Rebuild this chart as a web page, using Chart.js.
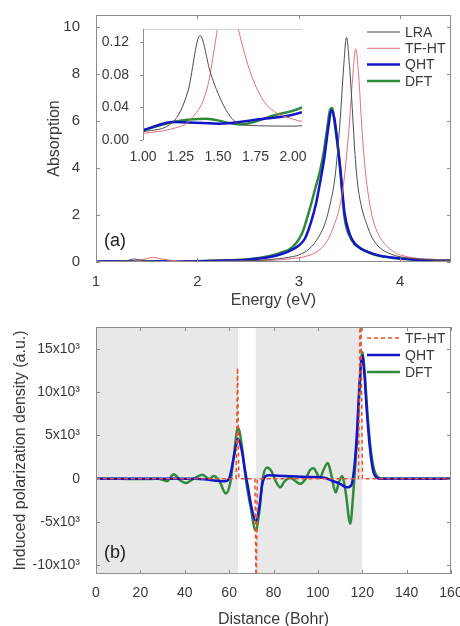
<!DOCTYPE html>
<html>
<head>
<meta charset="utf-8">
<script src="https://cdn.jsdelivr.net/npm/chart.js@4.4.1/dist/chart.umd.min.js"></script>
<style>
body{margin:0;background:#fff;}
#wrap{position:relative;width:460px;height:626px;overflow:hidden;}
#absChart{position:absolute;left:0;top:0;}
#insetChart{position:absolute;left:90px;top:20px;}
#polChart{position:absolute;left:0;top:308px;}
</style>
</head>
<body>
<div id="wrap">
<canvas id="absChart" width="460" height="308"></canvas>
<canvas id="insetChart" width="220" height="150"></canvas>
<canvas id="polChart" width="460" height="318"></canvas>
</div>
<script>
// ---- panel (a): absorption spectra ----
const energyLRA = [1.0,1.2,1.3,1.38,1.45,1.53,1.6,1.7,2.0,2.3,2.6,2.8,2.9,3.0,3.1,3.2,3.27,3.31,3.35,3.38,3.41,3.44,3.47,3.5,3.53,3.55,3.58,3.62,3.67,3.72,3.8,3.9,4.0,4.2,4.5];
const absLRA    = [0.01,0.022,0.06,0.128,0.082,0.045,0.025,0.018,0.017,0.03,0.07,0.14,0.2,0.3,0.55,1.1,1.8,2.5,3.4,4.6,6.2,8.2,9.55,8.3,6.3,4.8,3.3,2.3,1.6,1.05,0.6,0.35,0.22,0.12,0.06];

const energyTFHT = [1.0,1.2,1.31,1.43,1.5,1.56,1.63,1.71,1.8,1.89,1.98,2.06,2.3,2.6,2.8,3.0,3.1,3.2,3.28,3.35,3.4,3.44,3.47,3.5,3.53,3.56,3.59,3.62,3.65,3.68,3.72,3.77,3.85,3.93,4.0,4.2,4.5];
const absTFHT    = [0.008,0.014,0.024,0.065,0.14,0.2,0.14,0.086,0.049,0.033,0.027,0.023,0.03,0.05,0.09,0.18,0.28,0.5,0.9,1.6,2.3,3.3,4.5,6.0,7.8,9.06,7.9,5.8,4.1,3.0,2.0,1.3,0.75,0.45,0.3,0.14,0.07];

const energyQHT = [1.0,1.2,1.5,1.76,2.06,2.3,2.5,2.7,2.8,2.9,3.0,3.06,3.12,3.17,3.21,3.25,3.29,3.32,3.35,3.38,3.41,3.45,3.5,3.55,3.62,3.7,3.8,3.93,4.1,4.3,4.5];
const absQHT    = [0.012,0.022,0.02,0.025,0.034,0.06,0.1,0.2,0.3,0.45,0.7,1.0,1.7,2.5,3.4,4.4,5.7,6.45,6.1,5.1,3.9,2.1,1.2,0.8,0.55,0.4,0.27,0.18,0.12,0.08,0.06];

const energyDFT = [1.0,1.2,1.42,1.65,1.87,2.06,2.3,2.5,2.7,2.81,2.94,3.03,3.11,3.16,3.21,3.25,3.28,3.31,3.33,3.35,3.4,3.45,3.52,3.6,3.7,3.8,3.93,4.1,4.3,4.5];
const absDFT    = [0.012,0.022,0.026,0.019,0.03,0.04,0.07,0.12,0.25,0.38,0.64,1.2,2.3,3.1,3.9,4.8,5.7,6.5,6.55,6.0,4.3,1.9,0.94,0.6,0.38,0.25,0.17,0.11,0.07,0.05];

const energyTicks = [1, 2, 3, 4];
const absTicks = [0, 2, 4, 6, 8, 10];
const insetEnergyTicks = [1.0, 1.25, 1.5, 1.75, 2.0];
const insetAbsTicks = [0, 0.04, 0.08, 0.12];

// ---- panel (b): induced polarization density ----
const distTFHT = [0,63.2,63.8,64.4,71.6,72.2,72.7,118.3,119.2,120.1,160];
const polTFHT  = [0,0,12800,0,0,-14000,0,0,24000,0,0];

const distQHT = [0,45,50,55,58,60,61,62.5,64,65.5,67,68.5,70,72,73.5,75,76.5,78,85,95,103,106,110,113,115,116.5,117.6,118.8,120,121,122,123.6,125,126.5,128,160];
const polQHT  = [0,0,-100,-250,-300,0,1000,3000,4600,3500,1200,-1000,-3200,-4900,-3500,-600,300,400,300,200,100,-200,-600,-1000,-800,1500,5200,11000,14200,12000,8000,3200,800,100,0,0];

const distDFT = [0,10,20,28,32,35,38,40.5,44,48,51,53,55.5,58.5,60.5,62,64,66,67.5,69.5,72,73.5,75,77,79,81,83,85,87.6,90,92,94.5,96.5,98,100,101,102.5,104.5,106,108,109.5,111,112.5,114.6,116,117.6,118.8,120,121,122.5,124,125.5,127,128.5,160];
const polDFT  = [0,0,-50,0,-300,500,-200,-500,0,450,-50,300,-200,-1700,-500,2400,5900,3300,0,-3000,-6000,-4000,-200,1300,900,-300,-1000,-300,100,-300,-600,0,1000,1200,400,100,1000,1800,500,-1600,-400,300,-1500,-5200,-1500,4400,10500,14600,12500,7000,3000,900,200,0,0];

const distTicks = [0, 20, 40, 60, 80, 100, 120, 140, 160];
const polTicks = [-10000, -5000, 0, 5000, 10000, 15000];
const polTickLabels = ['-10x10³', '-5x10³', '0', '5x10³', '10x10³', '15x10³'];
const shadeRanges = [[0, 64], [72, 120]];

const FONT = '"Liberation Sans", Arial, sans-serif';
const TXT = '#3a3a3a';

function pts(xs, ys){
    return xs.map((x, i) => ({x: x, y: ys[i]}));
}

// box frame with small inward ticks on all sides
const framePlugin = {
    id: 'frame',
    afterDatasetsDraw(chart, args, opts){
        const {ctx, chartArea: a, scales} = chart;
        const x = scales.x, y = scales.y;
        ctx.save();
        ctx.lineWidth = 1;
        if(opts.inset){
            ctx.strokeStyle = '#d0d0d0';
            ctx.beginPath();
            ctx.moveTo(a.left, a.top + 0.5); ctx.lineTo(a.right, a.top + 0.5);
            ctx.stroke();
            ctx.strokeStyle = '#8c8c8c';
            ctx.beginPath();
            ctx.moveTo(a.left + 0.5, a.top); ctx.lineTo(a.left + 0.5, a.bottom);
            y.ticks.forEach(t => {
                const py = Math.round(y.getPixelForValue(t.value)) + 0.5;
                ctx.moveTo(a.left - 3, py); ctx.lineTo(a.left, py);
            });
            ctx.stroke();
            ctx.restore();
            return;
        }
        ctx.strokeStyle = '#8c8c8c';
        ctx.strokeRect(a.left + 0.5, a.top + 0.5, a.width - 1, a.height - 1);
        ctx.beginPath();
        x.ticks.forEach(t => {
            const px = Math.round(x.getPixelForValue(t.value)) + 0.5;
            ctx.moveTo(px, a.bottom); ctx.lineTo(px, a.bottom - 4);
            ctx.moveTo(px, a.top); ctx.lineTo(px, a.top + 4);
        });
        y.ticks.forEach(t => {
            const py = Math.round(y.getPixelForValue(t.value)) + 0.5;
            ctx.moveTo(a.left, py); ctx.lineTo(a.left + 4, py);
            ctx.moveTo(a.right, py); ctx.lineTo(a.right - 4, py);
        });
        ctx.stroke();
        ctx.restore();
    }
};

// grey background bands in panel (b)
const shadePlugin = {
    id: 'shade',
    beforeDatasetsDraw(chart){
        const {ctx, chartArea: a, scales: {x}} = chart;
        ctx.save();
        ctx.fillStyle = '#e8e8e8';
        shadeRanges.forEach(r => {
            const x0 = x.getPixelForValue(r[0]);
            const x1 = x.getPixelForValue(r[1]);
            ctx.fillRect(x0, a.top, x1 - x0, a.height);
        });
        ctx.restore();
    }
};

// legend and panel letter drawn inside the plot
const notePlugin = {
    id: 'note',
    afterDraw(chart, args, opts){
        const ctx = chart.ctx;
        ctx.save();
        ctx.font = '14px ' + FONT;
        ctx.textBaseline = 'middle';
        chart.data.datasets.forEach((ds, i) => {
            const y = opts.legendY + i * opts.gap;
            ctx.strokeStyle = ds.borderColor;
            ctx.lineWidth = ds.borderWidth;
            ctx.setLineDash(ds.borderDash || []);
            ctx.beginPath();
            ctx.moveTo(opts.legendX, y);
            ctx.lineTo(opts.legendX + 33, y);
            ctx.stroke();
            ctx.setLineDash([]);
            ctx.fillStyle = TXT;
            ctx.fillText(ds.label, opts.legendX + 38, y + 1);
        });
        ctx.font = '18px ' + FONT;
        ctx.fillStyle = '#222';
        ctx.fillText(opts.letter, opts.letterX, opts.letterY);
        ctx.restore();
    }
};

function fixWidth(w){
    return s => { s.width = w; s.paddingTop = 0; s.paddingBottom = 0; };
}
function fixHeight(h){
    return s => { s.height = h; s.paddingLeft = 0; s.paddingRight = 0; };
}
function setTicks(list){
    return s => { s.ticks = list.map(v => ({value: v})); };
}

const lineBase = {pointRadius: 0, fill: false, cubicInterpolationMode: 'monotone'};

const absDatasets = () => [
    {...lineBase, label: 'LRA', data: pts(energyLRA, absLRA), borderColor: '#4a4a4a', borderWidth: 1},
    {...lineBase, label: 'TF-HT', data: pts(energyTFHT, absTFHT), borderColor: '#e0707a', borderWidth: 1},
    {...lineBase, label: 'QHT', data: pts(energyQHT, absQHT), borderColor: '#1414c8', borderWidth: 2.5},
    {...lineBase, label: 'DFT', data: pts(energyDFT, absDFT), borderColor: '#2f8a3a', borderWidth: 2.5}
];

const absChart = new Chart(document.getElementById('absChart'), {
    type: 'line',
    data: {datasets: absDatasets()},
    plugins: [framePlugin, notePlugin],
    options: {
        responsive: false,
        animation: false,
        layout: {padding: {top: 15, right: 9, left: 0, bottom: 0}},
        plugins: {
            legend: {display: false},
            tooltip: {enabled: false},
            frame: {},
            note: {legendX: 367, legendY: 32, gap: 16.3, letter: '(a)', letterX: 104, letterY: 241}
        },
        scales: {
            x: {
                type: 'linear', min: 1, max: 4.5,
                afterFit: fixHeight(46),
                afterBuildTicks: setTicks(energyTicks),
                grid: {display: false}, border: {display: false},
                ticks: {padding: 3, color: TXT, font: {family: FONT, size: 15}},
                title: {display: true, text: 'Energy (eV)', color: TXT, font: {family: FONT, size: 16}, padding: {top: 0, bottom: -2}}
            },
            y: {
                type: 'linear', min: 0, max: 10.5,
                afterFit: fixWidth(96),
                afterBuildTicks: setTicks(absTicks),
                grid: {display: false}, border: {display: false},
                ticks: {padding: 8, color: TXT, font: {family: FONT, size: 15}},
                title: {display: true, text: 'Absorption', color: TXT, font: {family: FONT, size: 16}, padding: {top: 45, bottom: 0}}
            }
        }
    }
});

const insetChart = new Chart(document.getElementById('insetChart'), {
    type: 'line',
    data: {datasets: absDatasets()},
    plugins: [framePlugin],
    options: {
        responsive: false,
        animation: false,
        layout: {padding: {top: 9, right: 8, left: 0, bottom: 0}},
        plugins: {
            legend: {display: false},
            tooltip: {enabled: false},
            frame: {inset: true}
        },
        scales: {
            x: {
                type: 'linear', min: 1.0, max: 2.06,
                afterFit: fixHeight(30),
                afterBuildTicks: setTicks(insetEnergyTicks),
                grid: {display: false}, border: {display: false},
                ticks: {padding: 1, color: TXT, font: {family: FONT, size: 14}, callback: v => v.toFixed(2)}
            },
            y: {
                type: 'linear', min: 0, max: 0.136,
                afterFit: fixWidth(53),
                afterBuildTicks: setTicks(insetAbsTicks),
                grid: {display: false}, border: {display: false},
                ticks: {padding: 6, color: TXT, font: {family: FONT, size: 14}, callback: v => v.toFixed(2)}
            }
        }
    }
});

const polChart = new Chart(document.getElementById('polChart'), {
    type: 'line',
    data: {
        datasets: [
            {...lineBase, cubicInterpolationMode: 'default', tension: 0, label: 'TF-HT', data: pts(distTFHT, polTFHT), borderColor: '#e8502e', borderWidth: 1.5, borderDash: [4, 3]},
            {...lineBase, label: 'QHT', data: pts(distQHT, polQHT), borderColor: '#1414c8', borderWidth: 2.5},
            {...lineBase, label: 'DFT', data: pts(distDFT, polDFT), borderColor: '#2f8a3a', borderWidth: 2.5}
        ]
    },
    plugins: [shadePlugin, framePlugin, notePlugin],
    options: {
        responsive: false,
        animation: false,
        layout: {padding: {top: 19, right: 9, left: 0, bottom: 0}},
        plugins: {
            legend: {display: false},
            tooltip: {enabled: false},
            frame: {},
            note: {legendX: 367, legendY: 30, gap: 17, letter: '(b)', letterX: 104, letterY: 245}
        },
        scales: {
            x: {
                type: 'linear', min: 0, max: 160,
                afterFit: fixHeight(52),
                afterBuildTicks: setTicks(distTicks),
                grid: {display: false}, border: {display: false},
                ticks: {padding: 3, color: TXT, font: {family: FONT, size: 14}},
                title: {display: true, text: 'Distance (Bohr)', color: TXT, font: {family: FONT, size: 16}, padding: {top: 0, bottom: -3}}
            },
            y: {
                type: 'linear', min: -11000, max: 17500,
                afterFit: fixWidth(96),
                afterBuildTicks: setTicks(polTicks),
                grid: {display: false}, border: {display: false},
                ticks: {padding: 8, color: TXT, font: {family: FONT, size: 14},
                    callback: v => polTickLabels[polTicks.indexOf(v)]},
                title: {display: true, text: 'Induced polarization density (a.u.)', color: TXT, font: {family: FONT, size: 16}, padding: {top: 11, bottom: 0}}
            }
        }
    }
});
</script>
</body>
</html>
